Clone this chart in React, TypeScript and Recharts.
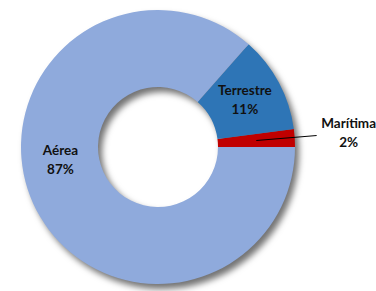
import { PieChart, Pie, Cell } from 'recharts'

// ─── Data ─────────────────────────────────────────────────────────────────────

const modes = ['Marítima', 'Terrestre', 'Aérea']
const shares = [2.1, 11.4, 86.5]
const colors = ['#C00000', '#2E75B6', '#8FAADC']

const data = modes.map((name, i) => ({ name, value: shares[i] }))

// label placement tweaks (Excel nudges the big slice's label)
const labelAngle: Record<string, number | undefined> = { 'Aérea': 188 }
const outsideLabel: Record<string, boolean> = { 'Marítima': true }

const RAD = Math.PI / 180
const FONT = 'Lato, "Open Sans", sans-serif'

// ─── Labels ───────────────────────────────────────────────────────────────────

function renderLabel(props: any) {
  const { cx, cy, midAngle, innerRadius, outerRadius, percent, name } = props
  const pct = `${Math.round(percent * 100)}%`
  const mid = (innerRadius + outerRadius) / 2

  if (outsideLabel[name]) {
    const a = midAngle * RAD
    const x1 = cx + mid * Math.cos(a)
    const y1 = cy - mid * Math.sin(a)
    const x2 = cx + (outerRadius + 22) * Math.cos(a)
    const y2 = cy - (outerRadius + 22) * Math.sin(a) - 1
    return (
      <g>
        <line x1={x1} y1={y1} x2={x2} y2={y2} stroke="#000" strokeWidth={1} />
        <text
          x={x2 + 32}
          y={y2 - 8}
          textAnchor="middle"
          fontFamily={FONT}
          fontWeight={700}
          fontSize={13.5}
          fill="#111"
        >
          <tspan x={x2 + 32} dy={0}>{name}</tspan>
          <tspan x={x2 + 32} dy={19}>{pct}</tspan>
        </text>
      </g>
    )
  }

  const ang = (labelAngle[name] ?? midAngle) * RAD
  const x = cx + mid * Math.cos(ang)
  const y = cy - mid * Math.sin(ang)
  return (
    <text
      x={x}
      y={y - 6}
      textAnchor="middle"
      fontFamily={FONT}
      fontWeight={700}
      fontSize={13.5}
      fill="#111"
    >
      <tspan x={x} dy={0}>{name}</tspan>
      <tspan x={x} dy={19}>{pct}</tspan>
    </text>
  )
}

// ─── Component ────────────────────────────────────────────────────────────────

export default function App() {
  return (
    <div style={{ position: 'absolute', left: 0, top: 0, width: 376, height: 291, background: '#fff' }}>
      {/* soft drop shadow on the whole ring (the group holding the sectors), not on the labels */}
      <style>{`
        .recharts-pie g:has(> .recharts-pie-sector) {
          filter: drop-shadow(4px 5px 3px rgba(0,0,0,0.55));
        }
      `}</style>
      <PieChart width={376} height={291}>
        <Pie
          data={data}
          dataKey="value"
          nameKey="name"
          cx={153}
          cy={142}
          innerRadius={60}
          outerRadius={137}
          startAngle={0}
          endAngle={360}
          stroke="none"
          label={renderLabel}
          labelLine={false}
          isAnimationActive={false}
        >
          {data.map((d, i) => (
            <Cell key={d.name} fill={colors[i]} stroke="none" />
          ))}
        </Pie>
      </PieChart>
    </div>
  )
}
